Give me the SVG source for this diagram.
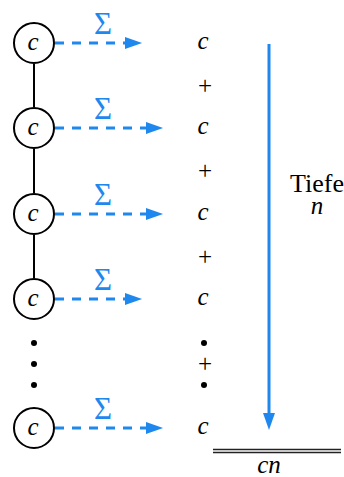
<svg xmlns="http://www.w3.org/2000/svg" width="344" height="477" viewBox="0 0 344 477">
<defs>
<marker id="ah" markerWidth="6" markerHeight="4" refX="0" refY="2" orient="auto" markerUnits="strokeWidth">
<path d="M0,0 L5.7,2 L0,4 Z" fill="#1f88ee"/>
</marker>
<style>
.node circle{fill:#fff;stroke:#000;stroke-width:2}
.lbl{font-family:"Liberation Serif",serif;font-style:italic;font-size:25px;fill:#000;text-anchor:middle}
.txt{font-family:"Liberation Serif",serif;font-size:25px;fill:#000;text-anchor:middle}
.sig{font-family:"Liberation Serif",serif;font-size:31px;fill:#1f88ee;text-anchor:middle}
.dash{stroke:#1f88ee;stroke-width:3;fill:none;stroke-dasharray:9 8;marker-end:url(#ah)}
.tree{stroke:#000;stroke-width:2}
</style>
</defs>
<g id="connectors">
<line class="tree" x1="34" y1="64" x2="34" y2="107"/>
<line class="tree" x1="34" y1="149" x2="34" y2="193"/>
<line class="tree" x1="34" y1="235" x2="34" y2="278"/>
<path class="dash" d="M55,43 H125"/>
<path class="dash" d="M55,128 H146"/>
<path class="dash" d="M55,214 H146"/>
<path class="dash" d="M55,299 H125"/>
<path class="dash" d="M55,428 H146"/>
<path d="M269,44 V413" stroke="#1f88ee" stroke-width="3" fill="none" marker-end="url(#ah)"/>
</g>
<g id="sigmas">
<text class="sig" x="103" y="34">Σ</text>
<text class="sig" x="103" y="119">Σ</text>
<text class="sig" x="103" y="205">Σ</text>
<text class="sig" x="103" y="290">Σ</text>
<text class="sig" x="103" y="419">Σ</text>
</g>
<g id="n1" class="node"><circle cx="34" cy="43" r="20"/><text class="lbl" x="33" y="50">c</text></g>
<g id="n2" class="node"><circle cx="34" cy="128" r="20"/><text class="lbl" x="33" y="135">c</text></g>
<g id="n3" class="node"><circle cx="34" cy="214" r="20"/><text class="lbl" x="33" y="221">c</text></g>
<g id="n4" class="node"><circle cx="34" cy="299" r="20"/><text class="lbl" x="33" y="306">c</text></g>
<g id="n5" class="node"><circle cx="34" cy="428" r="20"/><text class="lbl" x="33" y="435">c</text></g>
<g id="vdots">
<circle cx="34" cy="343" r="3"/>
<circle cx="34" cy="364" r="3"/>
<circle cx="34" cy="385" r="3"/>
</g>
<g id="sum">
<text class="lbl" x="203" y="49">c</text>
<text class="txt" x="205" y="94">+</text>
<text class="lbl" x="203" y="134">c</text>
<text class="txt" x="205" y="179">+</text>
<text class="lbl" x="203" y="220">c</text>
<text class="txt" x="205" y="265">+</text>
<text class="lbl" x="203" y="305">c</text>
<circle cx="204" cy="343" r="3"/>
<text class="txt" x="205" y="372">+</text>
<circle cx="204" cy="385" r="3"/>
<text class="lbl" x="203" y="434">c</text>
<line x1="213" y1="449.5" x2="341" y2="449.5" stroke="#222" stroke-width="1.3"/>
<line x1="213" y1="452.5" x2="341" y2="452.5" stroke="#222" stroke-width="1.3"/>
<text class="lbl" x="269" y="473">cn</text>
</g>
<g id="depth">
<text class="txt" x="317" y="192" style="font-size:26px">Tiefe</text>
<text class="lbl" x="317" y="214">n</text>
</g>
</svg>
